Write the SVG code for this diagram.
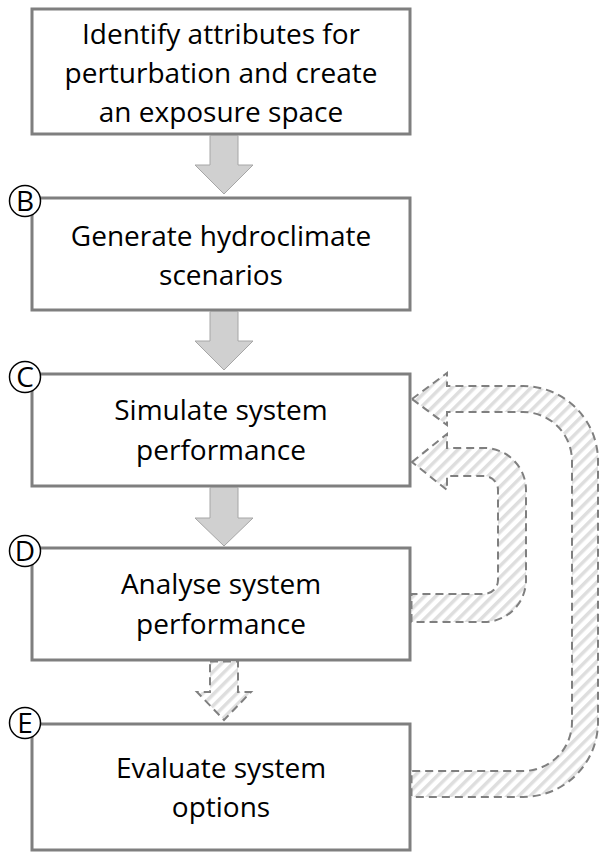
<svg xmlns="http://www.w3.org/2000/svg" width="600" height="853" viewBox="0 0 600 853">
<defs>
<pattern id="hatch" patternUnits="userSpaceOnUse" width="8" height="8" patternTransform="rotate(45)">
<rect width="8" height="8" fill="#ffffff"/>
<rect x="0" y="0" width="3.5" height="8" fill="#dedede"/>
</pattern>
<style>
.box{fill:#ffffff;stroke:#7f7f7f;stroke-width:3}
.t{font-family:"Open Sans",Lato,sans-serif;font-size:28px;fill:#000;text-anchor:middle}
.lbl{font-family:"Open Sans",Lato,sans-serif;font-size:28px;fill:#000;text-anchor:middle}
.circ{fill:#ffffff;stroke:#000;stroke-width:1.5}
.solid{fill:#d0d0d0;stroke:#a6a6a6;stroke-width:1}
.dash{fill:url(#hatch);stroke:#7f7f7f;stroke-width:2;stroke-dasharray:8 5}
</style>
</defs>
<g id="nodeA">
<rect class="box" x="32" y="9" width="378" height="125"/>
<text class="t" x="221" y="44">Identify attributes for</text>
<text class="t" x="221" y="83">perturbation and create</text>
<text class="t" x="221" y="122">an exposure space</text>
</g>
<g id="nodeB">
<rect class="box" x="32" y="198" width="378" height="112"/>
<text class="t" x="221" y="246">Generate hydroclimate</text>
<text class="t" x="221" y="285">scenarios</text>
<circle class="circ" cx="25" cy="201" r="15.5"/>
<text class="lbl" x="25" y="211">B</text>
</g>
<g id="nodeC">
<rect class="box" x="32" y="374" width="378" height="112"/>
<text class="t" x="221" y="420">Simulate system</text>
<text class="t" x="221" y="460">performance</text>
<circle class="circ" cx="25" cy="377" r="15.5"/>
<text class="lbl" x="25" y="387">C</text>
</g>
<g id="nodeD">
<rect class="box" x="32" y="548" width="378" height="112"/>
<text class="t" x="221" y="594">Analyse system</text>
<text class="t" x="221" y="634">performance</text>
<circle class="circ" cx="25" cy="551" r="15.5"/>
<text class="lbl" x="25" y="561">D</text>
</g>
<g id="nodeE">
<rect class="box" x="32" y="724" width="378" height="126"/>
<text class="t" x="221" y="778">Evaluate system</text>
<text class="t" x="221" y="817">options</text>
<circle class="circ" cx="25" cy="723" r="15.5"/>
<text class="lbl" x="25" y="733">E</text>
</g>
<g id="connectors">
<path class="solid" d="M210,135.5 H238 V165 H253 L224,194 L195,165 H210 Z"/>
<path class="solid" d="M210,311.5 H238 V341 H253 L224,370 L195,341 H210 Z"/>
<path class="solid" d="M210,487.5 H238 V518 H253 L224,546 L195,518 H210 Z"/>
<path class="dash" d="M210,661.5 H238 V692 H251 L224,720 L197,692 H210 Z"/>
<path class="dash" d="M412,399 L447,373 V386 H523 A75,75 0 0 1 598,461 V722 A75,75 0 0 1 523,797 H411.5 V771 H523 A49,49 0 0 0 572,722 V461 A49,49 0 0 0 523,412 H447 V425 Z"/>
<path class="dash" d="M412,462 L447,434 V448 H484 A42,42 0 0 1 526,490 V580 A42,42 0 0 1 484,622 H411.5 V594 H484 A14,14 0 0 0 498,580 V490 A14,14 0 0 0 484,476 H447 V490 Z"/>
</g>
</svg>
